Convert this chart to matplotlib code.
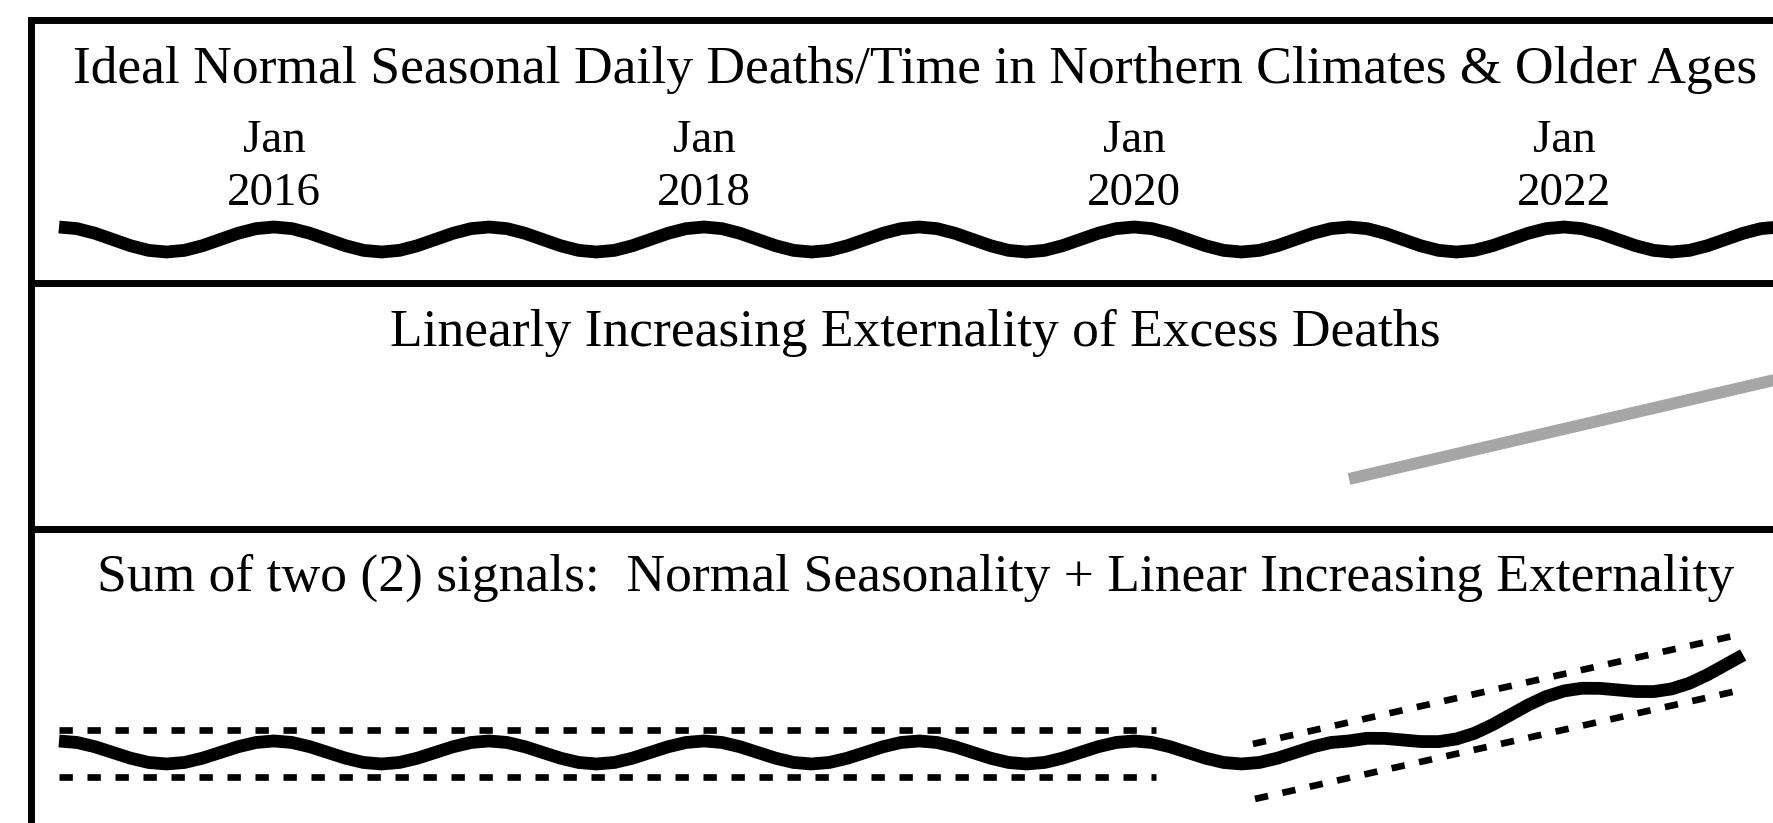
import numpy as np
import matplotlib.pyplot as plt
from matplotlib.transforms import blended_transform_factory

plt.rcParams['font.family'] = ['Liberation Serif', 'DejaVu Serif']

# seasonal shape over one year, one value per month, Jan = peak
season_profile = [1.00, 0.87, 0.50, 0.00, -0.50, -0.87, -1.00, -0.87, -0.50, 0.00, 0.50, 0.87]
years = [2015, 2016, 2017, 2018, 2019, 2020, 2021, 2022]
jan_labels = [2016, 2018, 2020, 2022]

# linear externality (start / end points)
trend_t = [2021.0, 2023.0]
trend_v = [0.0, 8.7]
sum_end = 2022 + 10 / 12

# dashed envelopes in the bottom panel
old_band_t = [2015.0, 2020.1]
old_band_hi = [1.96, 1.96]
old_band_lo = [-2.13, -2.13]
new_hi_t = [2020.553, 2022.786]
new_hi_v = [0.74, 10.13]
new_lo_t = [2020.563, 2022.805]
new_lo_v = [-4.04, 5.35]

titles = ["Ideal Normal Seasonal Daily Deaths/Time in Northern Climates & Older Ages",
          "Linearly Increasing Externality of Excess Deaths",
          "Sum of two (2) signals:  Normal Seasonality + Linear Increasing Externality"]

wave_t = np.array([y + m / 12 for y in years for m in range(12)] + [2023.0])
wave_v = np.array(season_profile * len(years) + [season_profile[0]])
trend_at = np.interp(wave_t, trend_t, trend_v, left=0.0)
keep = wave_t <= sum_end + 1e-9
sum_t = wave_t[keep]
sum_v = (wave_v + trend_at)[keep]

W, H = 1773, 823
fig = plt.figure(figsize=(W / 100, H / 100), dpi=100)


def panel(top, bottom):
    ax = fig.add_axes([30.5 / W, 1 - bottom / H, (1800 - 30.5) / W, (bottom - top) / H])
    ax.set_xlim(2015 - 28.5 / 215, 2015 + (1800 - 59) / 215)
    ax.set_xticks([])
    ax.set_yticks([])
    for s in ['right', 'bottom']:
        ax.spines[s].set_visible(False)
    for s in ['top', 'left']:
        ax.spines[s].set_linewidth(5.0)
    return ax


ax1 = panel(19.5, 283)
ax2 = panel(283, 529)
ax3 = panel(529, 850)
ax1.set_ylim(-3.48, (239.5 - 19.5) / 12.5)
ax2.set_ylim(-4.35, 17.04)
ax3.set_ylim(-8.48, 19.43)

# panel 1: seasonal wave
ax1.plot(wave_t, wave_v, color='black', lw=9.2, solid_capstyle='butt', solid_joinstyle='round')
for yr in jan_labels:
    ax1.text(yr, 7.0, 'Jan', ha='center', va='baseline', fontsize=33.8)
    ax1.text(yr, 2.76, str(yr), ha='center', va='baseline', fontsize=33.8)

# panel 2: linear trend
ax2.plot(trend_t, trend_v, color='#a6a6a6', lw=8.6, solid_capstyle='butt')

# panel 3: sum with envelopes
dash = dict(color='black', lw=4.8, dashes=(2.0, 2.2), dash_capstyle='butt')
ax3.plot(old_band_t, old_band_hi, **dash)
ax3.plot(old_band_t, old_band_lo, **dash)
ax3.plot(new_hi_t, new_hi_v, **dash)
ax3.plot(new_lo_t, new_lo_v, **dash)
ax3.plot(sum_t, sum_v, color='black', lw=9.2, solid_capstyle='butt', solid_joinstyle='round')

for ax, title, yb in zip([ax1, ax2, ax3], titles, [12.55, 11.57, 14.04]):
    tr = blended_transform_factory(ax.transAxes, ax.transData)
    ax.text(0.5, yb, title, transform=tr, ha='center', va='baseline', fontsize=38.5)

fig.savefig('out.png', dpi=100)
